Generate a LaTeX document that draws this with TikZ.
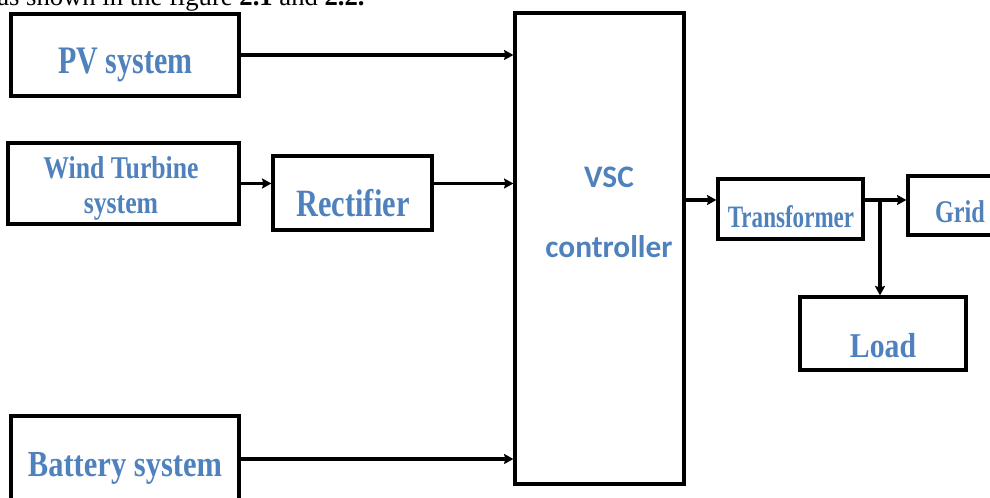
\documentclass[tikz,border=0pt]{standalone}
\usepackage{fontspec}
\usepackage{graphicx}
\setmainfont{Liberation Serif}
\newfontfamily\carlito{Carlito}
\usetikzlibrary{arrows.meta}
\definecolor{boxblue}{RGB}{79,129,189}
% the labels of the figure are set somewhat stretched in height
\newcommand\tall[2][1.25]{\scalebox{1}[#1]{#2}}
\tikzset{
  blk/.style={draw, line width=2.4pt, inner sep=0pt},
  lbl/.style={text=boxblue, inner sep=0pt, align=center},
  flow/.style={line width=2.4pt, -{Stealth[length=7pt,width=7.5pt,inset=1pt]}}
}

\begin{document}
\begin{tikzpicture}[x=0.75pt,y=0.75pt,yscale=-1,xscale=1]
\path[use as bounding box, clip] (0,0) rectangle (990,498);

% line of text above the figure
\node[anchor=base west, inner sep=0pt, font=\fontsize{20pt}{24pt}\selectfont] (cap) at (-3,6) {as shown in the figure \textbf{2.1} and \textbf{2.2.}};

% Blocks
\node[blk, minimum width=171pt, minimum height=61.5pt] (pv) at (125,55) {};
\node[blk, minimum width=173.25pt, minimum height=60.75pt] (wind) at (123.5,183.5) {};
\node[blk, minimum width=119.25pt, minimum height=55.5pt] (rect) at (352.5,193) {};
\node[blk, minimum width=171pt, minimum height=64.5pt] (bat) at (125,459) {};
\node[blk, minimum width=126.75pt, minimum height=353.25pt] (vsc) at (599.5,248.5) {};
\node[blk, minimum width=108.75pt, minimum height=45pt] (tr) at (790.5,209) {};
\node[blk, minimum width=76.5pt, minimum height=44.25pt] (grid) at (959,205.5) {};
\node[blk, minimum width=124.5pt, minimum height=54.75pt] (load) at (883,333.5) {};

% Text Node
\node[lbl, anchor=base, font=\bfseries\fontsize{22.5pt}{27pt}\selectfont] (pv-t) at (125.5,74) {\tall[1.3]{PV system}};
% Text Node
\node[lbl, font=\bfseries\fontsize{19.3pt}{26.25pt}\selectfont] (wind-t) at (121,188) {\tall[1.23]{Wind Turbine}\\\tall[1.23]{system}};
% Text Node
\node[lbl, anchor=base, font=\bfseries\fontsize{22.8pt}{27pt}\selectfont] (rect-t) at (353,217) {\tall[1.27]{Rectifier}};
% Text Node
\node[lbl, anchor=base, font=\bfseries\fontsize{22.9pt}{27pt}\selectfont] (bat-t) at (125,477) {\tall[1.2]{Battery system}};
% Text Node
\node[lbl, font=\carlito\bfseries\fontsize{23.5pt}{52.5pt}\selectfont] (vsc-t) at (609,212) {VSC\\controller};
% Text Node
\node[lbl, anchor=base, font=\bfseries\fontsize{17.3pt}{21pt}\selectfont] (tr-t) at (791,228) {\tall[1.35]{Transformer}};
% Text Node
\node[lbl, anchor=base, font=\bfseries\fontsize{18.2pt}{22pt}\selectfont] (grid-t) at (960,223) {\tall[1.3]{Grid}};
% Text Node
\node[lbl, anchor=base, font=\bfseries\fontsize{22.3pt}{27pt}\selectfont] (load-t) at (883,358) {\tall[1.17]{Load}};

% Connectors
\coordinate (tap) at (880,200);
\draw[flow] (pv.east) -- (pv.east -| vsc.west);
\draw[flow] (wind.east) -- (wind.east -| rect.west);
\draw[flow] (rect.east |- wind.east) -- (vsc.west |- wind.east);
\draw[flow] (bat.east) -- (bat.east -| vsc.west);
\draw[flow] (vsc.east |- tap) -- (tr.west |- tap);
\draw[flow] (tr.east |- tap) -- (grid.west |- tap);
\draw[flow] (tap) -- (tap |- load.north);
\end{tikzpicture}
\end{document}
